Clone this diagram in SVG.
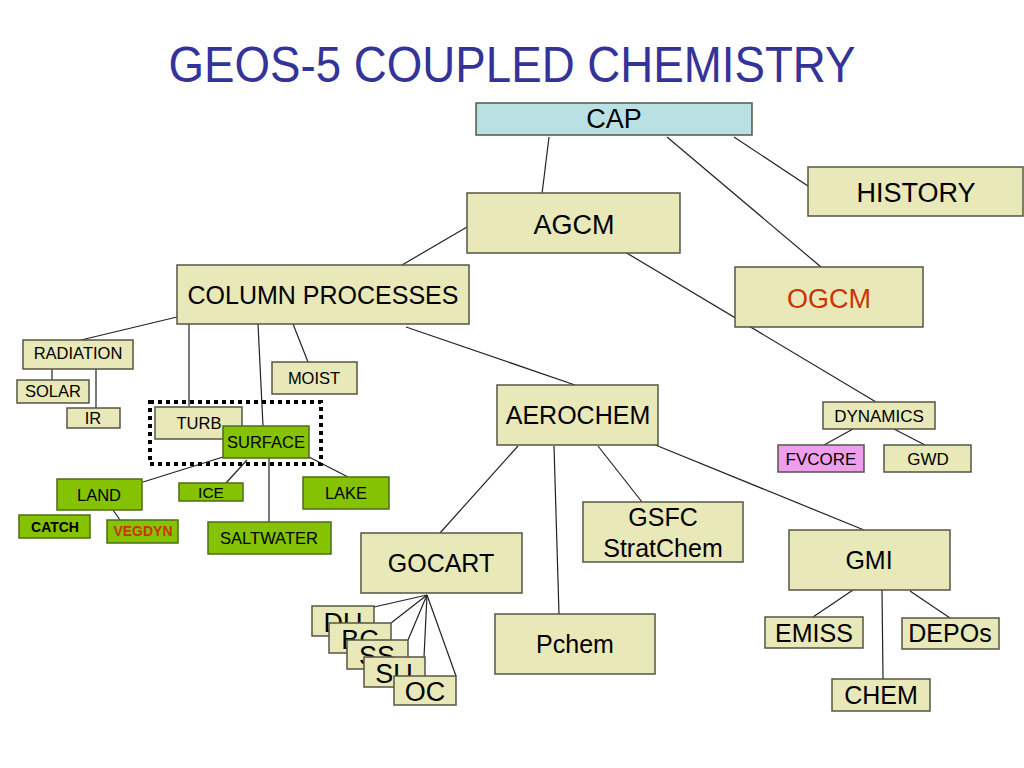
<svg xmlns="http://www.w3.org/2000/svg" width="1024" height="768" viewBox="0 0 1024 768">
<style>
text{font-family:"Liberation Sans",Arial,sans-serif;fill:#000;text-anchor:middle}
.b{fill:#e8e8b9;stroke:#555544;stroke-width:1.5}
.g{fill:#84c202;stroke:#4d6b1a;stroke-width:1.5}
.c{fill:#b9e0e3;stroke:#555544;stroke-width:1.5}
.p{fill:#ee9eea;stroke:#555544;stroke-width:1.5}
.L{font-size:27px}
.M{font-size:25px}
.S{font-size:16.5px}
.B{font-size:14px;font-weight:bold}
.K{font-size:27px}
#connectors line{stroke:#222;stroke-width:1.2}
</style>
<defs>
<clipPath id="cDU"><rect x="312" y="606" width="62" height="17"/><rect x="312" y="623" width="17" height="13"/></clipPath>
<clipPath id="cBC"><rect x="329" y="623" width="62" height="17"/><rect x="329" y="640" width="18" height="13"/></clipPath>
<clipPath id="cSS"><rect x="347" y="640" width="61" height="17"/><rect x="347" y="657" width="17" height="12"/></clipPath>
<clipPath id="cSU"><rect x="364" y="657" width="61" height="19"/><rect x="364" y="676" width="30" height="11"/></clipPath>
</defs>
<rect width="1024" height="768" fill="#fff"/>
<text x="512" y="82" style="font-size:50px;fill:#333399" textLength="687" lengthAdjust="spacingAndGlyphs">GEOS-5 COUPLED CHEMISTRY</text>
<g id="connectors">
<line x1="549" y1="137" x2="542" y2="194"/>
<line x1="667" y1="137" x2="821" y2="267"/>
<line x1="734" y1="137" x2="811" y2="188"/>
<line x1="467" y1="227" x2="402" y2="265"/>
<line x1="625" y1="252" x2="876" y2="402"/>
<line x1="177" y1="317" x2="81" y2="340"/>
<line x1="52" y1="369" x2="52" y2="380"/>
<line x1="96" y1="369" x2="96" y2="408"/>
<line x1="189" y1="324" x2="189" y2="406"/>
<line x1="258" y1="324" x2="263" y2="426"/>
<line x1="293" y1="324" x2="308" y2="362"/>
<line x1="406" y1="327" x2="575" y2="385"/>
<line x1="223" y1="457" x2="143" y2="482"/>
<line x1="247" y1="460" x2="226" y2="483"/>
<line x1="269" y1="458" x2="269" y2="522"/>
<line x1="309" y1="457" x2="348" y2="477"/>
<line x1="113" y1="510" x2="120" y2="520"/>
<line x1="518" y1="446" x2="440" y2="533"/>
<line x1="554" y1="446" x2="559" y2="614"/>
<line x1="598" y1="446" x2="642" y2="502"/>
<line x1="653" y1="444" x2="864" y2="530"/>
<line x1="853" y1="429" x2="824" y2="445"/>
<line x1="894" y1="429" x2="925" y2="445"/>
<line x1="853" y1="590" x2="813" y2="617"/>
<line x1="882" y1="590" x2="883" y2="679"/>
<line x1="910" y1="591" x2="950" y2="618"/>
<line x1="427" y1="595" x2="374" y2="607"/>
<line x1="427" y1="595" x2="391" y2="623"/>
<line x1="427" y1="595" x2="408" y2="640"/>
<line x1="427" y1="595" x2="424" y2="657"/>
<line x1="427" y1="595" x2="456" y2="676"/>
</g>
<g id="cap"><rect class="c" x="476" y="103" width="276" height="32"/><text class="L" x="614" y="128">CAP</text></g>
<g id="history"><rect class="b" x="808" y="167" width="215" height="49"/><text class="L" x="916" y="202">HISTORY</text></g>
<g id="agcm"><rect class="b" x="467" y="193" width="213" height="60"/><text class="L" x="574" y="234">AGCM</text></g>
<g id="ogcm"><rect class="b" x="735" y="267" width="188" height="60"/><text class="L" x="829" y="308" style="fill:#cc3300">OGCM</text></g>
<g id="column"><rect class="b" x="177" y="265" width="292" height="59"/><text class="M" x="323" y="304">COLUMN PROCESSES</text></g>
<g id="radiation"><rect class="b" x="23" y="340" width="110" height="29"/><text class="S" x="78" y="359">RADIATION</text></g>
<g id="solar"><rect class="b" x="17" y="380" width="72" height="23"/><text class="S" x="53" y="397">SOLAR</text></g>
<g id="ir"><rect class="b" x="67" y="408" width="53" height="20"/><text class="S" x="93" y="424">IR</text></g>
<g id="moist"><rect class="b" x="272" y="362" width="85" height="32"/><text class="S" x="314" y="384">MOIST</text></g>
<g id="turb"><rect class="b" x="155" y="407" width="87" height="32"/><text class="S" x="199" y="429">TURB</text></g>
<g id="surface"><rect class="g" x="223" y="426" width="86" height="32"/><text class="S" x="266" y="448">SURFACE</text></g>
<g id="surface-group"><rect x="150" y="402" width="171" height="62" fill="none" stroke="#000" stroke-width="4" stroke-dasharray="4 4"/></g>
<g id="land"><rect class="g" x="57" y="479" width="85" height="31"/><text class="S" x="99" y="501">LAND</text></g>
<g id="ice"><rect class="g" x="179" y="483" width="64" height="18"/><text class="S" x="211" y="498" style="font-size:15.5px">ICE</text></g>
<g id="lake"><rect class="g" x="303" y="477" width="86" height="32"/><text class="S" x="346" y="499">LAKE</text></g>
<g id="catch"><rect class="g" x="19" y="515" width="71" height="23"/><text class="B" x="55" y="532">CATCH</text></g>
<g id="vegdyn"><rect class="g" x="107" y="520" width="71" height="23"/><text class="B" x="143" y="536" style="fill:#cc3300">VEGDYN</text></g>
<g id="saltwater"><rect class="g" x="208" y="522" width="123" height="32"/><text class="S" x="269" y="544">SALTWATER</text></g>
<g id="aerochem"><rect class="b" x="497" y="385" width="161" height="60"/><text class="M" x="578" y="424">AEROCHEM</text></g>
<g id="dynamics"><rect class="b" x="823" y="402" width="112" height="27"/><text x="879" y="422" style="font-size:17px">DYNAMICS</text></g>
<g id="fvcore"><rect class="p" x="778" y="445" width="86" height="27"/><text x="821" y="465" style="font-size:17px">FVCORE</text></g>
<g id="gwd"><rect class="b" x="884" y="445" width="87" height="27"/><text x="928" y="465" style="font-size:17px">GWD</text></g>
<g id="gsfc"><rect class="b" x="583" y="502" width="160" height="60"/><text class="M" x="663" y="526">GSFC</text><text class="M" x="663" y="557">StratChem</text></g>
<g id="gmi"><rect class="b" x="789" y="530" width="161" height="60"/><text class="M" x="869" y="569">GMI</text></g>
<g id="pchem"><rect class="b" x="495" y="614" width="160" height="60"/><text class="M" x="575" y="653">Pchem</text></g>
<g id="emiss"><rect class="b" x="765" y="617" width="98" height="31"/><text class="M" x="814" y="642">EMISS</text></g>
<g id="depos"><rect class="b" x="902" y="618" width="97" height="31"/><text class="M" x="950" y="642">DEPOs</text></g>
<g id="chem"><rect class="b" x="832" y="679" width="98" height="32"/><text class="M" x="881" y="704">CHEM</text></g>
<g id="gocart"><rect class="b" x="361" y="533" width="161" height="60"/><text class="M" x="441" y="572">GOCART</text></g>
<g id="du"><rect class="b" x="312" y="606" width="62" height="30"/><text class="K" x="343" y="632" clip-path="url(#cDU)">DU</text></g>
<g id="bc"><rect class="b" x="329" y="623" width="62" height="30"/><text class="K" x="360" y="649" clip-path="url(#cBC)">BC</text></g>
<g id="ss"><rect class="b" x="347" y="640" width="61" height="29"/><text class="K" x="377" y="665" clip-path="url(#cSS)">SS</text></g>
<g id="su"><rect class="b" x="364" y="657" width="61" height="30"/><text class="K" x="394" y="683" clip-path="url(#cSU)">SU</text></g>
<g id="oc"><rect class="b" x="394" y="676" width="62" height="29"/><text class="K" x="425" y="701">OC</text></g>
</svg>
